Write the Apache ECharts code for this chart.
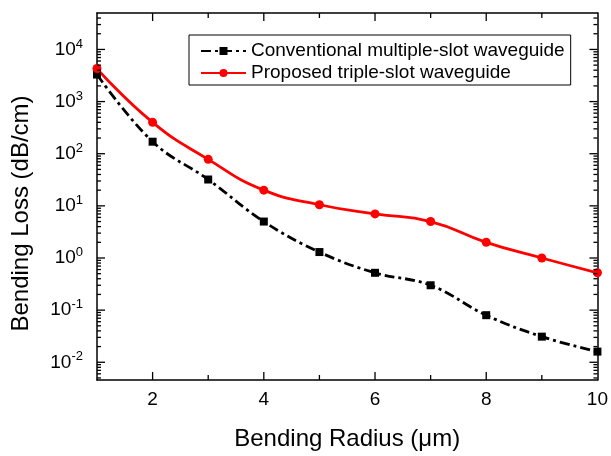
<!DOCTYPE html>
<html>
<head>
<meta charset="utf-8">
<script src="https://cdn.jsdelivr.net/npm/echarts@6/dist/echarts.min.js"></script>
<style>
  html, body { margin: 0; padding: 0; background: #fff; }
  #chart { width: 611px; height: 456px; }
</style>
</head>
<body>
<div id="chart"></div>
<script>
// 数据
const radius = [1, 2, 3, 4, 5, 6, 7, 8, 9, 10];
const conventional = [3300, 170, 32, 5.0, 1.3, 0.52, 0.30, 0.08, 0.031, 0.016];
const proposed = [4300, 400, 78, 20, 10.5, 7.0, 5.0, 2.0, 1.0, 0.52];

const seriesNames = ['Conventional multiple-slot waveguide', 'Proposed triple-slot waveguide'];

// 刻度标签
const xLabelTicks = [2, 4, 6, 8, 10];
const yLabelTicks = [0.01, 0.1, 1, 10, 100, 1000, 10000];

const FONT = 'Liberation Sans';
const xMin = 1, xMax = 10;
const yMin = 0.00457, yMax = 50000;

// 刻度线：[x, y, 方向(0=x轴 1=y轴), 长度]，位置由坐标轴换算
const tickData = [];
[2, 4, 6, 8].forEach(v => tickData.push([v, yMin, 0, 8]));
[3, 5, 7, 9].forEach(v => tickData.push([v, yMin, 0, 5]));
for (let e = -3; e <= 4; e++) {
    for (let m = 1; m <= 9; m++) {
        const v = +(m * Math.pow(10, e)).toPrecision(3);
        if (v > yMin && v < yMax) tickData.push([xMin, v, 1, m === 1 ? 8 : 4]);
    }
}

function renderTick(params, api) {
    const dir = api.value(2);
    const len = api.value(3);
    const style = {stroke: '#000', lineWidth: 1.3};
    if (dir === 0) {
        const b = api.coord([api.value(0), yMin]);
        const t = api.coord([api.value(0), yMax]);
        return {
            type: 'group', children: [
                {type: 'line', shape: {x1: b[0], y1: b[1], x2: b[0], y2: b[1] - len}, style},
                {type: 'line', shape: {x1: t[0], y1: t[1], x2: t[0], y2: t[1] + len}, style}
            ]
        };
    }
    const l = api.coord([xMin, api.value(1)]);
    const r = api.coord([xMax, api.value(1)]);
    return {
        type: 'group', children: [
            {type: 'line', shape: {x1: l[0], y1: l[1], x2: l[0] + len, y2: l[1]}, style},
            {type: 'line', shape: {x1: r[0], y1: r[1], x2: r[0] - len, y2: r[1]}, style}
        ]
    };
}

const option = {
    animation: false,
    grid: {left: 97, right: 12, top: 13, bottom: 70},
    legend: {
        orient: 'vertical', left: 189, top: 35,
        padding: [6, 6, 2, 11], itemGap: 2,
        itemWidth: 45, itemHeight: 10,
        borderColor: '#000', borderWidth: 1,
        textStyle: {color: '#000', fontFamily: FONT, fontSize: 19, lineHeight: 20},
        data: seriesNames
    },
    xAxis: [
        {
            type: 'value', position: 'bottom', min: xMin, max: xMax,
            axisLine: {show: true, onZero: false, lineStyle: {color: '#000', width: 1.5}},
            axisTick: {show: false},
            axisLabel: {customValues: xLabelTicks.slice(), margin: 10, color: '#000', fontFamily: FONT, fontSize: 19},
            splitLine: {show: false},
            name: 'Bending Radius (\u03bcm)',
            nameLocation: 'middle', nameGap: 47,
            nameTextStyle: {color: '#000', fontFamily: FONT, fontSize: 24}
        },
        {
            type: 'value', position: 'top', min: xMin, max: xMax,
            axisLine: {show: true, onZero: false, lineStyle: {color: '#000', width: 1.5}},
            axisTick: {show: false}, axisLabel: {show: false}, splitLine: {show: false}
        }
    ],
    yAxis: [
        {
            type: 'log', position: 'left', min: yMin, max: yMax,
            axisLine: {show: true, onZero: false, lineStyle: {color: '#000', width: 1.5}},
            axisTick: {show: false},
            axisLabel: {
                customValues: yLabelTicks.slice(), margin: 14,
                formatter: v => '{b|10}{s|' + Math.round(Math.log10(v)) + '}',
                rich: {
                    b: {color: '#000', fontFamily: FONT, fontSize: 19},
                    s: {color: '#000', fontFamily: FONT, fontSize: 13, padding: [0, 0, 11, 0]}
                }
            },
            splitLine: {show: false},
            name: 'Bending Loss (dB/cm)',
            nameLocation: 'middle', nameGap: 64,
            nameTextStyle: {color: '#000', fontFamily: FONT, fontSize: 24, padding: [0, 34, 0, 0]}
        },
        {
            type: 'log', position: 'right', min: yMin, max: yMax,
            axisLine: {show: true, onZero: false, lineStyle: {color: '#000', width: 1.5}},
            axisTick: {show: false}, axisLabel: {show: false}, splitLine: {show: false}
        }
    ],
    series: [
        {
            name: seriesNames[0], type: 'line',
            data: radius.map((x, i) => [x, conventional[i]]),
            smooth: 0.4,
            symbol: 'rect', symbolSize: 8,
            itemStyle: {color: '#000'},
            lineStyle: {color: '#000', width: 2.8, type: [10, 4, 3, 4]}
        },
        {
            name: seriesNames[1], type: 'line',
            data: radius.map((x, i) => [x, proposed[i]]),
            smooth: 0.5,
            symbol: 'circle', symbolSize: 9,
            itemStyle: {color: '#ff0000'},
            lineStyle: {color: '#ff0000', width: 2.8}
        },
        {
            name: 'ticks', type: 'custom',
            renderItem: renderTick,
            data: tickData,
            silent: true, clip: false, z: 5
        }
    ]
};

const chart = echarts.init(document.getElementById('chart'));
chart.setOption(option);
</script>
</body>
</html>
